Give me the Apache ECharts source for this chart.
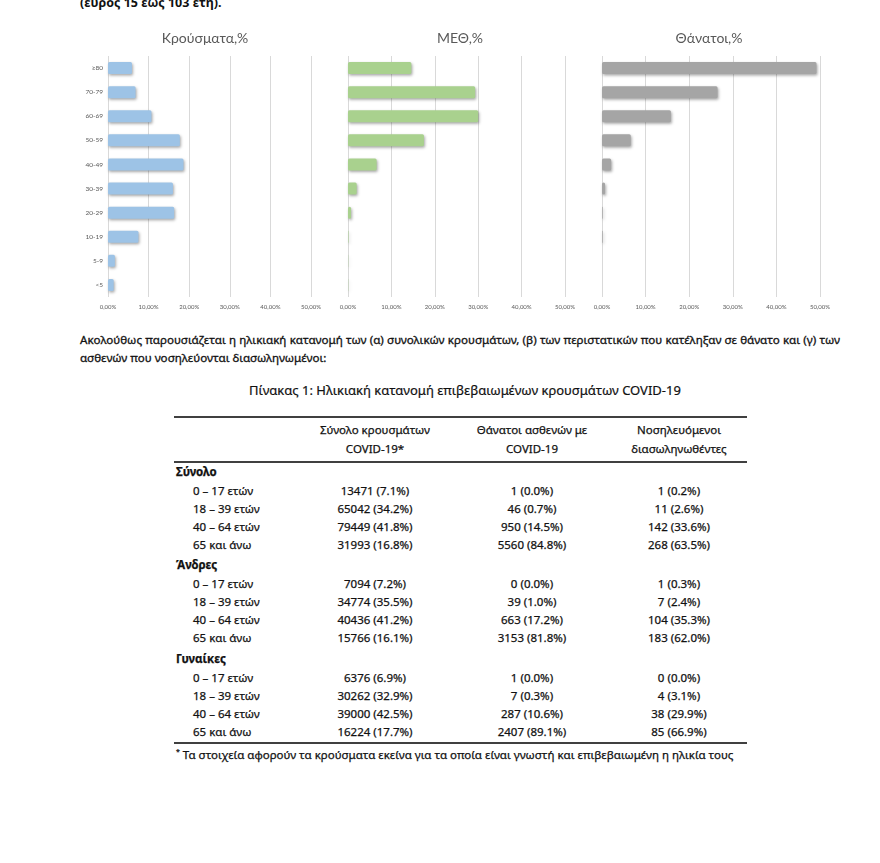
<!DOCTYPE html>
<html><head><meta charset="utf-8">
<script src="https://cdn.jsdelivr.net/npm/echarts/dist/echarts.min.js"></script>
<style>
html,body{margin:0;padding:0;background:#fff;}
body{width:880px;height:863px;position:relative;overflow:hidden;font-family:"Noto Sans",sans-serif;color:#111;}
#chart{position:absolute;left:0;top:0;width:880px;height:320px;}
.abs{position:absolute;white-space:nowrap;}
#para{position:absolute;left:80px;top:331px;width:760px;font-size:11.6px;line-height:18px;text-align:justify;text-align-last:left;white-space:normal;-webkit-text-stroke:0.3px #111;}
.rule{position:absolute;left:174px;width:573px;background:#404040;}
.cell{position:absolute;font-size:11.5px;line-height:16px;white-space:nowrap;-webkit-text-stroke:0.25px #111;}
</style></head>
<body>
<div class="abs" style="left:80px;top:-6px;font-size:12.5px;font-weight:bold;">(εύρος 15 έως 103 έτη).</div>
<div id="chart"></div>
<div id="para">Ακολούθως παρουσιάζεται η ηλικιακή κατανομή των (α) συνολικών κρουσμάτων, (β) των περιστατικών που κατέληξαν σε θάνατο και (γ) των ασθενών που νοσηλεύονται διασωληνωμένοι:</div>
<div class="abs" id="ttl" style="left:0;width:930px;text-align:center;top:381px;font-size:13px;-webkit-text-stroke:0.2px #111;">Πίνακας 1: Ηλικιακή κατανομή επιβεβαιωμένων κρουσμάτων COVID-19</div>
<div id="table"></div>
<script>
// ---- chart data ----
const ageGroups = ['<5','5-9','10-19','20-29','30-39','40-49','50-59','60-69','70-79','≥80'];
const casesPct  = [1.4, 1.7, 7.5, 16.3, 16.0, 18.6, 17.7, 10.7, 6.8, 5.9];
const icuPct    = [0.05, 0.05, 0.1, 0.7, 2.0, 6.6, 17.5, 30.0, 29.3, 14.6];
const deathsPct = [0, 0, 0.15, 0.15, 0.7, 2.1, 6.6, 15.8, 26.5, 49.2];
const panelTitles = ['Κρούσματα,%', 'ΜΕΘ,%', 'Θάνατοι,%'];
const xTicks = [0, 10, 20, 30, 40, 50];

// ---- table data ----
const colHeaders = [['Σύνολο κρουσμάτων','COVID-19*'], ['Θάνατοι ασθενών με','COVID-19'], ['Νοσηλευόμενοι','διασωληνωθέντες']];
const rowLabels = ['0 – 17 ετών', '18 – 39 ετών', '40 – 64 ετών', '65 και άνω'];
const groupNames = ['Σύνολο', 'Άνδρες', 'Γυναίκες'];
const totalRows = [
  ['13471 (7.1%)', '1 (0.0%)', '1 (0.2%)'],
  ['65042 (34.2%)', '46 (0.7%)', '11 (2.6%)'],
  ['79449 (41.8%)', '950 (14.5%)', '142 (33.6%)'],
  ['31993 (16.8%)', '5560 (84.8%)', '268 (63.5%)']
];
const menRows = [
  ['7094 (7.2%)', '0 (0.0%)', '1 (0.3%)'],
  ['34774 (35.5%)', '39 (1.0%)', '7 (2.4%)'],
  ['40436 (41.2%)', '663 (17.2%)', '104 (35.3%)'],
  ['15766 (16.1%)', '3153 (81.8%)', '183 (62.0%)']
];
const womenRows = [
  ['6376 (6.9%)', '1 (0.0%)', '0 (0.0%)'],
  ['30262 (32.9%)', '7 (0.3%)', '4 (3.1%)'],
  ['39000 (42.5%)', '287 (10.6%)', '38 (29.9%)'],
  ['16224 (17.7%)', '2407 (89.1%)', '85 (66.9%)']
];
const footnote = 'Τα στοιχεία αφορούν τα κρούσματα εκείνα για τα οποία είναι γνωστή και επιβεβαιωμένη η ηλικία τους';

// ---- build charts ----
const colors = ['#9dc3e6', '#a9d18e', '#a5a5a5'];
const seriesData = [casesPct, icuPct, deathsPct];
const grids = [
  {left:108, top:56, width:203, height:241},
  {left:348, top:56, width:217, height:241},
  {left:602, top:56, width:218, height:241}
];
const titleX = [205, 460, 709];
const fmt = v => v.toFixed(2).replace('.', ',') + '%';
const chart = echarts.init(document.getElementById('chart'));
chart.setOption({
  animation:false,
  grid: grids,
  graphic: panelTitles.map((t,i)=>({type:'text', x:titleX[i], y:38, style:{text:t, fill:'#595959', font:'14px Lato, "Noto Sans", sans-serif', textAlign:'center', textVerticalAlign:'middle'}})),
  xAxis: grids.map((g,i)=>({
    type:'value', gridIndex:i, min:xTicks[0], max:xTicks[xTicks.length-1], interval:10,
    axisLine:{show:false}, axisTick:{show:false},
    axisLabel:{formatter:fmt, fontSize:6, color:'#595959', margin:7, fontFamily:'Lato, sans-serif'},
    splitLine:{show:true, lineStyle:{color:'#d9d9d9', width:1}}
  })),
  yAxis: grids.map((g,i)=>({
    type:'category', gridIndex:i, data:ageGroups,
    axisLine:{show:false}, axisTick:{show:false},
    axisLabel:{show:i===0, fontSize:6.5, color:'#595959', margin:5, fontFamily:'Lato, sans-serif'}
  })),
  series: seriesData.map((d,i)=>({
    type:'bar', xAxisIndex:i, yAxisIndex:i, data:d, barWidth:12,
    itemStyle:{color:colors[i], borderRadius:1.5, shadowBlur:3, shadowColor:'rgba(0,0,0,0.35)', shadowOffsetX:1, shadowOffsetY:1.5}
  }))
});

// ---- build table ----
const T = document.getElementById('table');
function add(html, style, cls){ const d=document.createElement('div'); d.className=cls||'cell'; d.innerHTML=html; d.setAttribute('style', style); T.appendChild(d); }
const colX = [375, 532, 679];
add('', 'top:416px;height:2px;', 'rule');
add('', 'top:461px;height:1.5px;', 'rule');
add('', 'top:742px;height:1.5px;', 'rule');
colHeaders.forEach((h,i)=>{
  add(h[0], `left:${colX[i]-100}px;width:200px;text-align:center;top:422px;`);
  add(h[1], `left:${colX[i]-100}px;width:200px;text-align:center;top:441px;`);
});
const groups = [totalRows, menRows, womenRows];
const groupTop = [464, 557, 651];
const rowStep = 18.1;
groups.forEach((rows,g)=>{
  add(groupNames[g], `left:176px;top:${groupTop[g]}px;font-weight:bold;`);
  rows.forEach((r,k)=>{
    const y = groupTop[g] + 19 + k*rowStep;
    add(rowLabels[k], `left:193px;top:${y}px;`);
    r.forEach((v,c)=> add(v, `left:${colX[c]-100}px;width:200px;text-align:center;top:${y}px;`));
  });
});
add('<sup style="font-size:7px">*</sup> ' + footnote, 'left:176px;top:744px;');
</script>
</body></html>
